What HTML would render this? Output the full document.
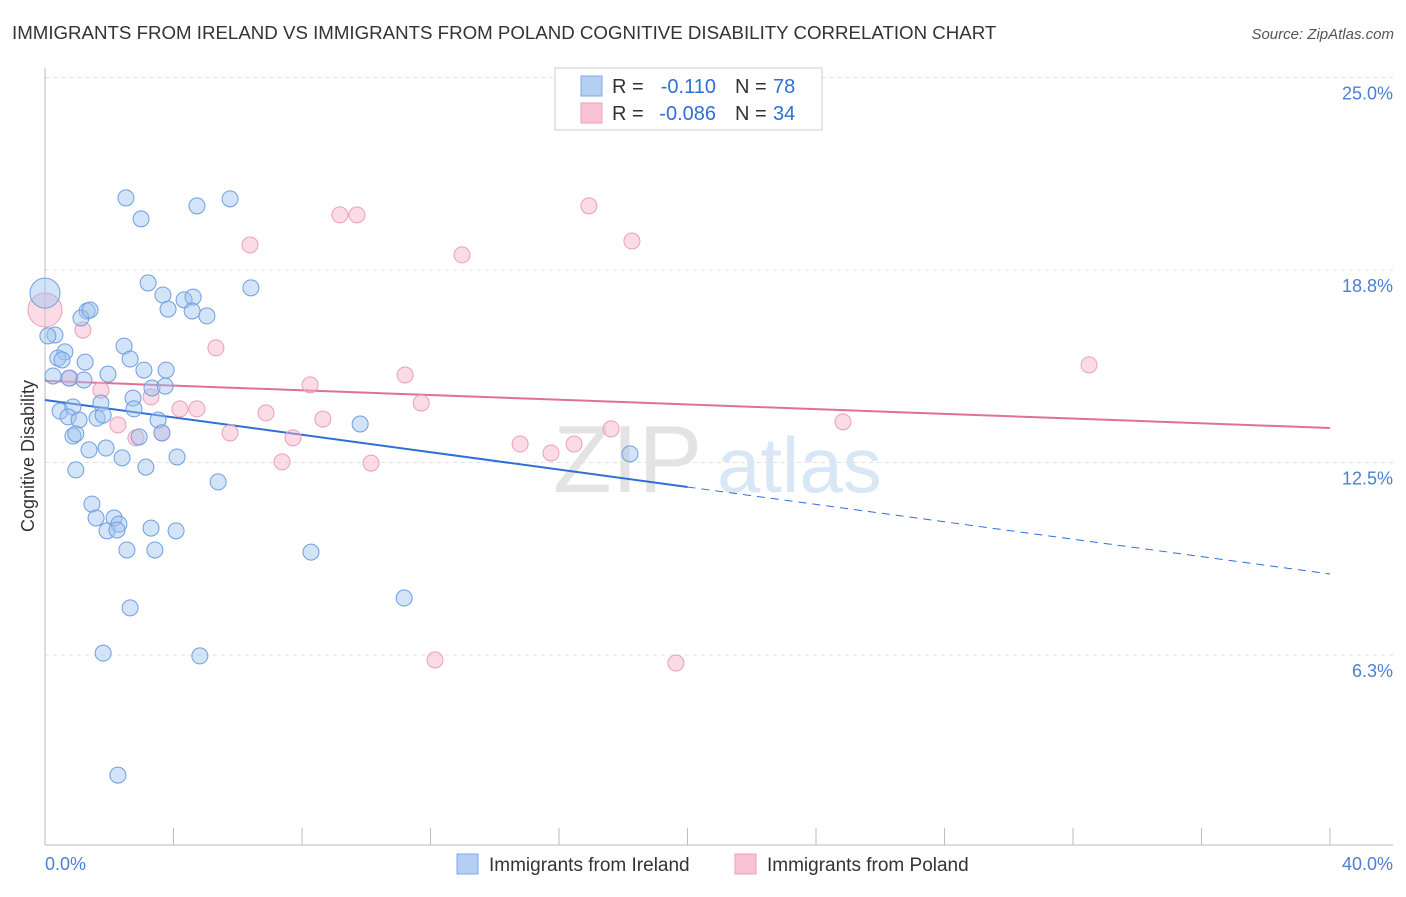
<!DOCTYPE html>
<html><head><meta charset="utf-8"><style>
body{margin:0;background:#fff;font-family:"Liberation Sans",sans-serif}
svg text{font-family:"Liberation Sans",sans-serif}
</style></head><body>
<svg id="chart" width="1406" height="892" xmlns="http://www.w3.org/2000/svg">
<text x="12" y="39" font-size="18.7" fill="#333">IMMIGRANTS FROM IRELAND VS IMMIGRANTS FROM POLAND COGNITIVE DISABILITY CORRELATION CHART</text>
<text x="1394" y="39" font-size="15" fill="#555" font-style="italic" text-anchor="end">Source: ZipAtlas.com</text>
<g>
<text x="553" y="492" font-size="96" fill="#ddd" font-family="Liberation Serif" opacity="0.8">ZIP</text>
<text x="717" y="492" font-size="78" fill="#cfe0f3" opacity="0.8">atlas</text>
</g>
<g id="grid"></g><g id="axes"></g><g id="lines"></g><g id="pts"></g>
<text transform="translate(34,456) rotate(-90)" font-size="18" fill="#333" text-anchor="middle">Cognitive Disability</text>
<g>
<rect x="555" y="68" width="267" height="62" fill="#fff" stroke="#ccc"/>
<rect x="581" y="76" width="21" height="20" fill="#b4cff3" stroke="#7fa8e4"/>
<rect x="581" y="103" width="21" height="20" fill="#f8c4d5" stroke="#eba0b9"/>
<text x="612" y="93" font-size="20" fill="#333">R =</text>
<text x="716" y="93" font-size="20" fill="#2f6fd6" text-anchor="end">-0.110</text>
<text x="735" y="93" font-size="20" fill="#333">N =</text>
<text x="773" y="93" font-size="20" fill="#2f6fd6">78</text>
<text x="612" y="120" font-size="20" fill="#333">R =</text>
<text x="716" y="120" font-size="20" fill="#2f6fd6" text-anchor="end">-0.086</text>
<text x="735" y="120" font-size="20" fill="#333">N =</text>
<text x="773" y="120" font-size="20" fill="#2f6fd6">34</text>
</g>
<g>
<rect x="457" y="854" width="21" height="20" fill="#b4cff3" stroke="#7fa8e4"/>
<text x="489" y="871" font-size="19" fill="#333">Immigrants from Ireland</text>
<rect x="735" y="854" width="21" height="20" fill="#f8c4d5" stroke="#eba0b9"/>
<text x="767" y="871" font-size="19" fill="#333">Immigrants from Poland</text>
</g>
</svg>
<script>
const yTicks=[6.25,12.5,18.75,25];
const yTickLabels=["6.3%","12.5%","18.8%","25.0%"];
const xTickValues=[0,4,8,12,16,20,24,28,32,36,40];
const irelandX=[2.52,2.99,4.73,5.76,3.21,6.41,0,3.67,4.33,4.61,3.83,4.58,5.04,1.31,1.12,1.40,0.31,0.09,2.46,0.62,0.40,0.53,1.25,2.65,0.25,0.75,1.21,1.96,3.08,3.77,3.33,3.74,2.74,1.74,2.77,0.47,0.87,0.72,1.06,1.62,1.81,3.52,9.81,0.87,0.96,2.93,3.64,1.37,1.90,2.40,4.11,18.21,3.14,0.96,5.39,1.46,1.59,2.15,2.30,1.93,2.24,3.30,4.08,2.55,3.42,8.28,11.18,2.65,1.81,4.82,2.27];
const irelandY=[21.09,20.41,20.83,21.06,18.33,18.17,18.0,17.94,17.78,17.87,17.48,17.42,17.26,17.42,17.19,17.45,16.64,16.61,16.28,16.09,15.89,15.83,15.76,15.86,15.31,15.24,15.18,15.37,15.5,15.5,14.92,14.98,14.59,14.43,14.24,14.17,14.3,13.98,13.88,13.94,14.04,13.88,13.75,13.36,13.43,13.33,13.46,12.91,12.97,12.65,12.68,12.78,12.35,12.26,11.87,11.15,10.7,10.7,10.5,10.28,10.31,10.37,10.28,9.66,9.66,9.59,8.1,7.78,6.31,6.22,2.35];
const polandX=[0,1.18,0.78,1.74,3.30,2.27,2.83,3.64,4.20,4.73,5.32,5.76,6.38,6.88,7.38,7.72,8.25,8.65,9.18,9.71,10.15,11.21,11.71,12.98,12.14,14.79,15.75,16.47,16.93,17.62,18.27,19.64,24.84,32.5];
const polandY=[17.45,16.8,15.24,14.85,14.63,13.72,13.3,13.46,14.24,14.24,16.22,13.46,19.56,14.11,12.52,13.3,15.02,13.91,20.54,20.54,12.48,15.34,14.43,19.24,6.09,13.1,12.81,13.1,20.83,13.59,19.69,5.99,13.82,15.67];
const irelandTrend=[14.53,8.88];
const polandTrend=[15.15,13.62];
const NS="http://www.w3.org/2000/svg";
const X=v=>45+v/40*1285;
const Y=v=>655-(v-6.25)*30.8;
function mk(tag,attrs,parent){const e=document.createElementNS(NS,tag);for(const k in attrs)e.setAttribute(k,attrs[k]);document.getElementById(parent).appendChild(e);return e;}
yTicks.forEach((t,i)=>{
 const g=mk('line',{x1:45,x2:1393,y1:Y(t),y2:Y(t),stroke:'#e2e2e2','stroke-dasharray':'4,4'},'grid');
 
 
 const l=mk('text',{x:1393,y:Y(t)+22,'font-size':18,fill:'#4a7fd6','text-anchor':'end'},'grid');
 l.textContent=yTickLabels[i];
 
 
});
const ax=mk('line',{x1:45,x2:45,y1:68,y2:845,stroke:'#bbb'},'axes');


const bx=mk('line',{x1:45,x2:1393,y1:845,y2:845,stroke:'#bbb'},'axes');


xTickValues.forEach(t=>{
 const k=mk('line',{x1:X(t),x2:X(t),y1:828,y2:845,stroke:'#bbb'},'axes');
 
 
});
const x0=mk('text',{x:45,y:870,'font-size':18,fill:'#4a7fd6'},'axes');x0.textContent='0.0%';


const x1=mk('text',{x:1393,y:870,'font-size':18,fill:'#4a7fd6','text-anchor':'end'},'axes');x1.textContent='40.0%';


polandX.forEach((v,i)=>{
 const c=mk('circle',{cx:X(v),cy:Y(polandY[i]),r:i===0?17:8,fill:'rgba(244,176,200,0.45)',stroke:'#ec9fba','stroke-width':1},'pts');
 
 
});
irelandX.forEach((v,i)=>{
 const c=mk('circle',{cx:X(v),cy:Y(irelandY[i]),r:i===6?15:8,fill:'rgba(160,196,240,0.45)',stroke:'#6e9ee2','stroke-width':1},'pts');
 
 
});
const ty=(tr,x)=>tr[0]+(tr[1]-tr[0])*x/40;
const b1=mk('line',{x1:X(0),y1:Y(irelandTrend[0]),x2:X(20),y2:Y(ty(irelandTrend,20)),stroke:'#2f6fd6','stroke-width':2},'lines');


const b2=mk('line',{x1:X(20),y1:Y(ty(irelandTrend,20)),x2:X(40),y2:Y(irelandTrend[1]),stroke:'#2f6fd6','stroke-width':1,'stroke-dasharray':'8,6'},'lines');


const p1=mk('line',{x1:X(0),y1:Y(polandTrend[0]),x2:X(40),y2:Y(polandTrend[1]),stroke:'#e0709a','stroke-width':2},'lines');


</script>
</body></html>
